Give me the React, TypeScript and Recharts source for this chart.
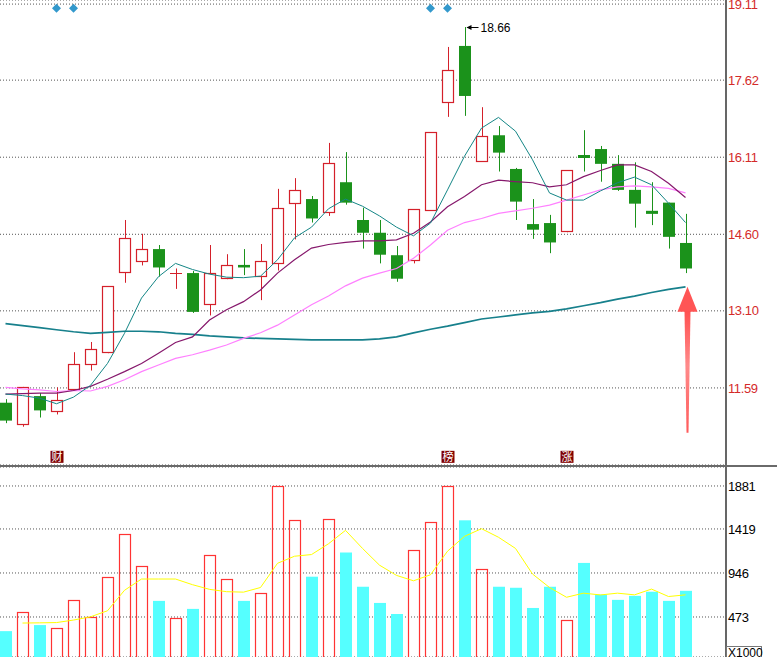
import React from "react";
import { ComposedChart, Bar, Line, XAxis, YAxis, CartesianGrid } from "recharts";

// 41 trading days, left to right
const OPEN = [11.30, 10.88, 11.43, 11.13, 11.56, 12.05, 12.29, 13.86, 14.07, 14.31, 13.83, 13.84, 13.23, 13.74, 14.00, 13.78, 14.03, 15.21, 15.29, 15.03, 15.62, 14.88, 14.63, 14.19, 14.09, 15.07, 17.19, 18.29, 16.03, 16.54, 15.88, 14.80, 14.82, 14.66, 16.13, 16.27, 15.98, 15.47, 15.06, 15.22, 14.43];
const HIGH = [11.37, 11.61, 11.49, 11.60, 12.29, 12.49, 13.58, 14.88, 14.61, 14.39, 13.93, 13.88, 14.39, 14.21, 14.31, 14.41, 15.49, 15.70, 15.35, 16.39, 16.21, 15.12, 14.88, 14.37, 15.09, 16.60, 18.27, 18.66, 17.09, 16.72, 15.90, 15.29, 14.98, 15.85, 16.64, 16.33, 16.15, 16.01, 15.62, 15.22, 15.00];
const LOW = [10.90, 10.83, 11.01, 11.07, 11.55, 11.93, 12.27, 13.65, 13.99, 13.77, 13.53, 13.06, 13.01, 13.72, 13.80, 13.31, 13.89, 14.50, 14.83, 14.96, 15.18, 14.32, 14.03, 13.67, 14.03, 15.06, 16.90, 16.92, 16.02, 15.83, 14.88, 14.51, 14.23, 14.64, 15.83, 15.63, 15.45, 14.73, 14.78, 14.32, 13.84];
const CLOSE = [10.95, 11.60, 11.15, 11.35, 12.05, 12.35, 13.58, 14.52, 14.31, 13.95, 13.84, 13.08, 13.84, 13.99, 13.95, 14.07, 15.11, 15.46, 14.91, 15.99, 15.22, 14.63, 14.20, 13.73, 15.09, 16.60, 17.81, 17.31, 16.52, 16.20, 15.24, 14.69, 14.44, 15.85, 16.12, 15.98, 15.47, 15.20, 15.00, 14.55, 13.93];

const MA5 = [11.47, 11.44, 11.39, 11.28, 11.41, 11.64, 12.07, 12.66, 13.35, 13.77, 14.03, 13.91, 13.82, 13.76, 13.75, 13.78, 14.10, 14.53, 14.74, 15.10, 15.29, 15.15, 14.96, 14.74, 14.57, 14.82, 15.47, 16.13, 16.68, 16.89, 16.62, 16.06, 15.41, 15.27, 15.27, 15.45, 15.61, 15.72, 15.57, 15.21, 14.83];
const MA10 = [11.47, 11.48, 11.49, 11.49, 11.54, 11.62, 11.76, 11.91, 12.07, 12.27, 12.48, 12.59, 12.92, 13.12, 13.28, 13.51, 13.84, 14.10, 14.33, 14.40, 14.44, 14.47, 14.47, 14.49, 14.62, 14.84, 15.14, 15.34, 15.57, 15.66, 15.63, 15.61, 15.53, 15.57, 15.73, 15.85, 15.96, 15.96, 15.83, 15.60, 15.32];
const MA20 = [11.60, 11.57, 11.55, 11.52, 11.54, 11.53, 11.62, 11.75, 11.91, 12.04, 12.17, 12.24, 12.33, 12.43, 12.56, 12.67, 12.82, 13.02, 13.22, 13.39, 13.59, 13.74, 13.84, 13.93, 14.13, 14.39, 14.68, 14.83, 14.91, 15.01, 15.06, 15.11, 15.17, 15.27, 15.37, 15.47, 15.53, 15.55, 15.53, 15.50, 15.41];
const MA60 = [12.85, 12.81, 12.77, 12.73, 12.69, 12.66, 12.68, 12.70, 12.70, 12.69, 12.66, 12.64, 12.61, 12.59, 12.57, 12.56, 12.55, 12.54, 12.53, 12.53, 12.53, 12.53, 12.55, 12.59, 12.67, 12.74, 12.80, 12.87, 12.94, 12.98, 13.02, 13.06, 13.09, 13.14, 13.20, 13.26, 13.33, 13.39, 13.46, 13.52, 13.57];

// volume, in thousands
const VOLUME = [321, 524, 386, 351, 654, 473, 903, 1368, 1022, 646, 462, 560, 1141, 881, 646, 729, 1881, 1519, 906, 1530, 1166, 798, 624, 505, 1195, 1498, 1881, 1512, 989, 798, 787, 570, 798, 437, 1054, 714, 657, 700, 744, 646, 754];
const VOL_MA = [null, 408, 410, 413, 440, 475, 540, 760, 881, 881, 881, 820, 770, 745, 740, 790, 1050, 1126, 1144, 1260, 1404, 1210, 1030, 920, 862, 927, 1180, 1340, 1422, 1330, 1210, 935, 790, 685, 729, 710, 729, 711, 773, 693, 711];

const PRICE_TICKS = [11.59, 13.10, 14.60, 16.11, 17.62, 19.11];
const VOL_TICKS = [473, 946, 1419, 1881];

const FLAG_DAYS = [3, 4, 25, 26];
const TAG_DAYS = [3, 26, 33];
const TAG_TEXT = ["财", "榜", "涨"];
const PEAK_DAY = 27;
const ARROW_DAY = 40;

const UP = "#d4202a";
const DOWN = "#1b921b";

const data = OPEN.map((o, i) => ({
  idx: i,
  open: o,
  high: HIGH[i],
  low: LOW[i],
  close: CLOSE[i],
  up: CLOSE[i] >= o,
  ma5: MA5[i],
  ma10: MA10[i],
  ma20: MA20[i],
  ma60: MA60[i],
  vol: VOLUME[i],
  volMa: VOL_MA[i],
  flag: FLAG_DAYS.includes(i) ? 19.03 : null,
  tag: TAG_DAYS.includes(i) ? 10.24 : null,
  tagText: TAG_DAYS.includes(i) ? TAG_TEXT[TAG_DAYS.indexOf(i)] : "",
  peak: i === PEAK_DAY ? HIGH[i] : null,
  arrow: i === ARROW_DAY ? MA60[i] : null,
}));

const Candle = (props: any) => {
  const { x, y, width, height, payload } = props;
  const { open, close, high, low, up } = payload;
  const top = Math.min(y, y + height);
  const h = Math.abs(height);
  const px = (v: number) => top + ((high - v) / (high - low)) * h;
  const cx = Math.round(x + width / 2) + 0.5;
  const bTop = px(Math.max(open, close));
  const bBot = px(Math.min(open, close));
  const left = Math.round(x);
  const color = up ? UP : DOWN;
  if (bBot - bTop < 1.5) {
    return (
      <g>
        <line x1={cx} x2={cx} y1={top} y2={top + h} stroke={color} strokeWidth={1} />
        <line x1={left} x2={left + width} y1={Math.round(bTop) + 0.5} y2={Math.round(bTop) + 0.5} stroke={color} strokeWidth={up ? 1 : 3} />
      </g>
    );
  }
  if (up) {
    return (
      <g>
        <line x1={cx} x2={cx} y1={top} y2={bTop} stroke={color} />
        <line x1={cx} x2={cx} y1={bBot} y2={top + h} stroke={color} />
        <rect x={left + 0.5} y={Math.round(bTop) + 0.5} width={width - 1} height={Math.round(bBot - bTop)} fill="#fff" stroke={color} strokeWidth={1.2} />
      </g>
    );
  }
  return (
    <g>
      <line x1={cx} x2={cx} y1={top} y2={top + h} stroke={color} />
      <rect x={left} y={bTop} width={width} height={bBot - bTop} fill={color} />
    </g>
  );
};

const VolBar = (props: any) => {
  const { x, y, width, height, payload } = props;
  if (payload.up) {
    return <rect x={Math.round(x) + 0.5} y={Math.round(y) + 0.5} width={width - 1} height={height + 2} fill="none" stroke="#ff3333" strokeWidth={1.2} />;
  }
  return <rect x={x} y={y} width={width} height={height + 2} fill="#55ffff" />;
};

const Diamond = (p: any) => {
  if (p.value == null || p.cy == null) return <g key={p.index} />;
  const r = 4.5;
  return <polygon key={p.index} points={`${p.cx},${p.cy - r} ${p.cx + r},${p.cy} ${p.cx},${p.cy + r} ${p.cx - r},${p.cy}`} fill="#3399cc" />;
};

const Tag = (p: any) => {
  if (p.value == null || p.cy == null) return <g key={p.index} />;
  return (
    <g key={p.index}>
      <rect x={p.cx - 6} y={p.cy - 6} width={13} height={12} fill="#800000" />
      <text x={p.cx + 0.5} y={p.cy + 4.5} textAnchor="middle" fontSize={11} fill="#fff" fontFamily="Noto Sans CJK SC">
        {p.payload.tagText}
      </text>
    </g>
  );
};

const Peak = (p: any) => {
  if (p.value == null || p.cy == null) return <g key={p.index} />;
  const y = Math.round(p.cy) + 0.5;
  return (
    <g key={p.index}>
      <line x1={p.cx + 3} x2={p.cx + 14} y1={y} y2={y} stroke="#000" />
      <polygon points={`${p.cx + 2},${y} ${p.cx + 7},${y - 2.5} ${p.cx + 7},${y + 2.5}`} fill="#000" />
      <text x={p.cx + 16} y={y + 4} fontSize={12} fill="#000" fontFamily="Liberation Sans, Arial">
        {p.value.toFixed(2)}
      </text>
    </g>
  );
};

const BigArrow = (p: any) => {
  if (p.value == null || p.cy == null) return <g key={p.index} />;
  const tx = p.cx + 2;
  const ty = p.cy;
  return (
    <g key={p.index}>
      <defs>
        <linearGradient id="arrowFade" x1="0" y1="0" x2="0" y2="1">
          <stop offset="0%" stopColor="#ff5050" />
          <stop offset="45%" stopColor="#ff8a8a" />
          <stop offset="100%" stopColor="#ff5a5a" />
        </linearGradient>
      </defs>
      <polygon points={`${tx},${ty} ${tx + 10},${ty + 25} ${tx - 10},${ty + 25}`} fill="#ff5555" />
      <polygon points={`${tx - 3},${ty + 24} ${tx + 3},${ty + 24} ${tx + 1},${ty + 146} ${tx - 1},${ty + 146}`} fill="url(#arrowFade)" />
    </g>
  );
};

const tickFont = { fontSize: 13, fontFamily: "Liberation Sans, Arial", letterSpacing: -0.4 };

export default function App() {
  return (
    <div style={{ position: "fixed", left: 0, top: 0, width: 777, height: 657, background: "#fff", overflow: "hidden" }}>
      <div style={{ position: "absolute", left: -3, top: 0 }}>
        <ComposedChart width={780} height={466} data={data} margin={{ top: 0, right: 0, bottom: 1, left: 0 }}>
          <CartesianGrid horizontal vertical={false} stroke="#555" strokeDasharray="1 2" />
          <XAxis dataKey="idx" type="category" hide padding={{ left: 0, right: 32 }} />
          <YAxis
            orientation="right"
            width={51}
            domain={[10.08, 19.19]}
            allowDataOverflow
            ticks={PRICE_TICKS}
            interval={0}
            tickFormatter={(v: number) => v.toFixed(2)}
            tick={{ ...tickFont, fill: "#d42a2a" }}
            tickLine={false}
            tickSize={0}
            tickMargin={2}
            axisLine={{ stroke: "#000", strokeWidth: 1.2 }}
          />
          <Bar dataKey={(d: any) => [d.low, d.high]} barSize={12} shape={Candle} activeBar={false} isAnimationActive={false} />
          <Line type="linear" dataKey="ma60" stroke="#17808c" strokeWidth={1.7} dot={false} activeDot={false} isAnimationActive={false} />
          <Line type="linear" dataKey="ma20" stroke="#ff80ff" strokeWidth={1.2} dot={false} activeDot={false} isAnimationActive={false} />
          <Line type="linear" dataKey="ma10" stroke="#86186c" strokeWidth={1.2} dot={false} activeDot={false} isAnimationActive={false} />
          <Line type="linear" dataKey="ma5" stroke="#148686" strokeWidth={1} dot={false} activeDot={false} isAnimationActive={false} />
          <Line dataKey="flag" stroke="none" dot={Diamond} activeDot={false} isAnimationActive={false} />
          <Line dataKey="tag" stroke="none" dot={Tag} activeDot={false} isAnimationActive={false} />
          <Line dataKey="peak" stroke="none" dot={Peak} activeDot={false} isAnimationActive={false} />
          <Line dataKey="arrow" stroke="none" dot={BigArrow} activeDot={false} isAnimationActive={false} />
        </ComposedChart>
      </div>
      <div style={{ position: "absolute", left: 0, top: 465, width: 777, height: 2, background: "#6a6a6a" }} />
      <div style={{ position: "absolute", left: -3, top: 467 }}>
        <ComposedChart width={780} height={190} data={data} margin={{ top: 0, right: 0, bottom: 0, left: 0 }}>
          <CartesianGrid horizontal vertical={false} stroke="#555" strokeDasharray="1 2" />
          <XAxis dataKey="idx" type="category" hide padding={{ left: 0, right: 32 }} />
          <YAxis
            orientation="right"
            width={51}
            domain={[43, 2085]}
            allowDataOverflow
            ticks={VOL_TICKS}
            interval={0}
            tick={{ ...tickFont, fill: "#000" }}
            tickLine={false}
            tickSize={0}
            tickMargin={2}
            axisLine={{ stroke: "#000", strokeWidth: 1.2 }}
          />
          <Line type="linear" dataKey="volMa" stroke="#ffff00" strokeWidth={1} dot={false} activeDot={false} isAnimationActive={false} />
          <Bar dataKey="vol" barSize={12} shape={VolBar} activeBar={false} isAnimationActive={false} />
        </ComposedChart>
      </div>
      <div
        style={{
          position: "absolute", left: 726, top: 646, width: 36, height: 11,
          border: "1px solid #777", borderBottom: "none", fontSize: 12, lineHeight: "12px",
          fontFamily: "Liberation Sans, Arial", color: "#000", paddingLeft: 1, boxSizing: "border-box",
        }}
      >
        X1000
      </div>
    </div>
  );
}
